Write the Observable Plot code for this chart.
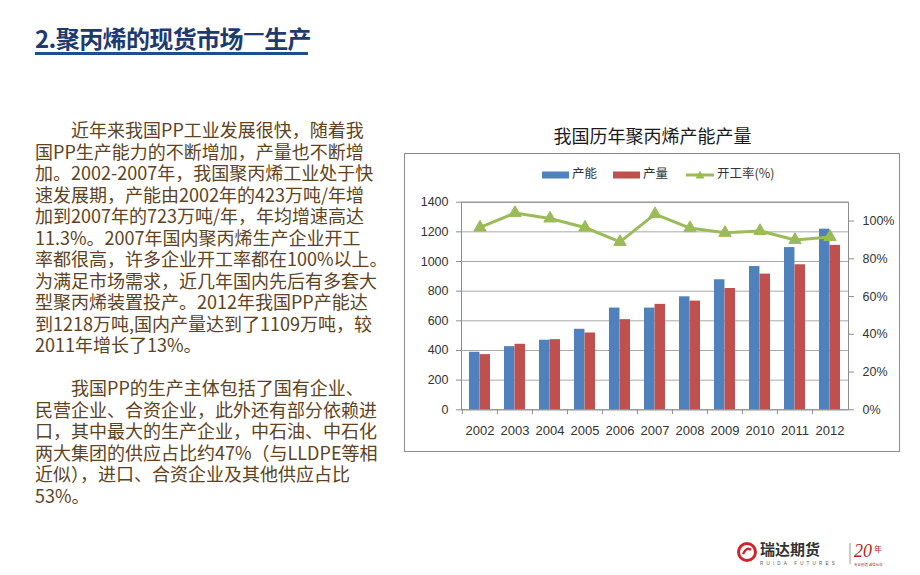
<!DOCTYPE html>
<html>
<head>
<meta charset="utf-8">
<script src="https://cdn.jsdelivr.net/npm/d3@7"></script>
<script src="https://cdn.jsdelivr.net/npm/@observablehq/plot@0.6"></script>
<style>
  html, body { margin: 0; padding: 0; background: #fff; }
  body { width: 920px; height: 575px; position: relative; overflow: hidden; font-family: "Noto Sans CJK SC", "Noto Sans", sans-serif; }
  #title { position: absolute; left: 35px; top: 22px; font-size: 24px; font-weight: bold; color: #1f3a6e; line-height: 32px; white-space: nowrap; letter-spacing: -0.6px; }
  #title .dash { position: relative; top: -7px; }
  #title-bar { position: absolute; left: 35px; top: 52px; width: 273px; height: 3px; background: #1f4e8c; }
  .para { position: absolute; left: 35px; font-size: 18px; line-height: 21.5px; color: #5e4322; white-space: nowrap; }
  .para div { height: 21.5px; }
  #chart-title { position: absolute; left: 404px; width: 497px; top: 121px; text-align: center; font-size: 18px; color: #1a1a1a; line-height: 28px; }
  #box { position: absolute; left: 404px; top: 153px; width: 496px; height: 299px; border: 1px solid #8c8c8c; box-sizing: border-box; }
  #legend { position: absolute; left: 404px; top: 163px; width: 496px; height: 20px; font-size: 12.5px; color: #333; }
  #legend .item { position: absolute; top: 0; height: 20px; line-height: 20px; white-space: nowrap; }
  #legend svg { vertical-align: middle; }
  #plot { position: absolute; left: 404px; top: 185px; }
  #logo { position: absolute; left: 736px; top: 538px; width: 180px; height: 30px; }
</style>
</head>
<body>
<div id="title">2.聚丙烯的现货市场<span class="dash">—</span>生产</div>
<div id="title-bar"></div>

<div class="para" style="top:119px">
  <div>&emsp;&emsp;近年来我国PP工业发展很快，随着我</div>
  <div>国PP生产能力的不断增加，产量也不断增</div>
  <div>加。2002-2007年，我国聚丙烯工业处于快</div>
  <div>速发展期，产能由2002年的423万吨/年增</div>
  <div>加到2007年的723万吨/年，年均增速高达</div>
  <div>11.3%。2007年国内聚丙烯生产企业开工</div>
  <div>率都很高，许多企业开工率都在100%以上。</div>
  <div>为满足市场需求，近几年国内先后有多套大</div>
  <div>型聚丙烯装置投产。2012年我国PP产能达</div>
  <div>到1218万吨,国内产量达到了1109万吨，较</div>
  <div>2011年增长了13%。</div>
</div>
<div class="para" style="top:377px">
  <div>&emsp;&emsp;我国PP的生产主体包括了国有企业、</div>
  <div>民营企业、合资企业，此外还有部分依赖进</div>
  <div>口，其中最大的生产企业，中石油、中石化</div>
  <div>两大集团的供应占比约47%（与LLDPE等相</div>
  <div>近似），进口、合资企业及其他供应占比</div>
  <div>53%。</div>
</div>

<div id="chart-title">我国历年聚丙烯产能产量</div>
<div id="box"></div>
<div id="legend"></div>
<div id="plot"></div>

<div id="logo">
  <svg width="180" height="30" viewBox="0 0 180 30">
    <circle cx="11" cy="14" r="8.5" fill="none" stroke="#d2232a" stroke-width="3"/>
    <path d="M7 16 Q11 8 15 12" fill="none" stroke="#d2232a" stroke-width="2.5"/>
    <text x="24" y="17" font-size="15" font-weight="bold" fill="#333" font-family="Noto Sans CJK SC">瑞达期货</text>
    <text x="24" y="27" font-size="4.5" fill="#555" font-family="Liberation Sans" letter-spacing="3.2">RUIDA FUTURES</text>
    <line x1="114" y1="5" x2="114" y2="26" stroke="#999" stroke-width="1"/>
    <text x="118" y="19" font-size="18" font-style="italic" fill="#b5242a" font-family="Liberation Serif">20</text>
    <text x="138" y="14" font-size="8" fill="#b5242a" font-family="Noto Sans CJK SC">年</text>
    <text x="118" y="27.5" font-size="3.5" fill="#b5242a" font-family="Noto Sans CJK SC">专业创造 诚信长存</text>
  </svg>
</div>

<script>
// ---- Data ----
const years = ["2002","2003","2004","2005","2006","2007","2008","2009","2010","2011","2012"];
const capacity = [388, 426, 469, 543, 686, 686, 762, 877, 966, 1094, 1218];     // 产能 (万吨)
const production = [372, 442, 473, 518, 608, 711, 733, 818, 915, 978, 1109];    // 产量 (万吨)
const rate = [0.966, 1.043, 1.014, 0.966, 0.890, 1.037, 0.963, 0.938, 0.948, 0.900, 0.916]; // 开工率
const leftTicks = [0, 200, 400, 600, 800, 1000, 1200, 1400];
const rightTicks = [0, 0.2, 0.4, 0.6, 0.8, 1.0];
const seriesNames = ["产能", "产量", "开工率(%)"];

const leftMax = 1400, rightMax = 1.1;
const k = leftMax / rightMax; // maps right-axis fraction onto left-axis units

const blue = "#4f81bd", red = "#c0504d", green = "#9bbb59";

const rows = years.map((y, i) => ({year: y, cap: capacity[i], prod: production[i], rate: rate[i]}));

const W = 496, H = 267;
const mL = 57, mR = 52, mT = 16.7, mB = 42.7;
const plotW = W - mL - mR;
const pIn = 0.4, pOut = 0.2;
const step = plotW / (years.length - pIn + 2 * pOut);
const bw = step * (1 - pIn);

const chart = Plot.plot({
  width: W,
  height: H,
  marginLeft: mL,
  marginRight: mR,
  marginTop: mT,
  marginBottom: mB,
  style: {fontFamily: "Liberation Sans, Arial, sans-serif", fontSize: "12.5px", color: "#333", background: "transparent"},
  x: {type: "band", domain: years, paddingInner: pIn, paddingOuter: pOut, align: 0.5, axis: null},
  y: {domain: [0, leftMax], axis: null},
  marks: [
    Plot.gridY(leftTicks, {stroke: "#a8a8a8", strokeOpacity: 1}),
    Plot.barY(rows, {x: "year", y: "cap", fill: blue, insetLeft: 0, insetRight: bw / 2}),
    Plot.barY(rows, {x: "year", y: "prod", fill: red, insetLeft: bw / 2, insetRight: 0}),
    Plot.frame({stroke: "#8c8c8c"}),
    Plot.ruleX(years, {x: d => d, dx: -step / 2, y1: 0, y2: -32, stroke: "#8c8c8c"}),
    Plot.axisY({anchor: "left", ticks: leftTicks, tickFormat: d => String(d), tickSize: 5, tickPadding: 8, stroke: "#8c8c8c", fill: "#333", label: null}),
    Plot.axisY({anchor: "right", ticks: rightTicks.map(t => t * k), tickFormat: v => Math.round(v / k * 100) + "%", tickSize: 5, tickPadding: 9, stroke: "#8c8c8c", fill: "#333", label: null}),
    Plot.axisX({anchor: "bottom", tickSize: 0, tickPadding: 16, fontSize: 13, fill: "#333", label: null}),
    Plot.line(rows, {x: "year", y: d => d.rate * k, stroke: green, strokeWidth: 3, strokeLinejoin: "round"}),
    Plot.dot(rows, {x: "year", y: d => d.rate * k, symbol: "triangle", r: 4.6, fill: green, stroke: green, strokeWidth: 1})
  ]
});
document.getElementById("plot").appendChild(chart);

// ---- Legend ----
const legend = document.getElementById("legend");
const items = [
  {name: seriesNames[0], color: blue, type: "bar", left: 138},
  {name: seriesNames[1], color: red, type: "bar", left: 209},
  {name: seriesNames[2], color: green, type: "line", left: 282}
];
for (const it of items) {
  const div = document.createElement("div");
  div.className = "item";
  div.style.left = it.left + "px";
  const sw = it.type === "bar"
    ? `<svg width="27" height="8"><rect x="0" y="0.5" width="27" height="7" fill="${it.color}"/></svg>`
    : `<svg width="28" height="12"><line x1="0" y1="6" x2="28" y2="6" stroke="${it.color}" stroke-width="3"/><path d="M14 1.5 L18.5 9.5 L9.5 9.5 Z" fill="${it.color}"/></svg>`;
  div.innerHTML = sw + `<span style="margin-left:3px">${it.name}</span>`;
  legend.appendChild(div);
}
</script>
</body>
</html>
